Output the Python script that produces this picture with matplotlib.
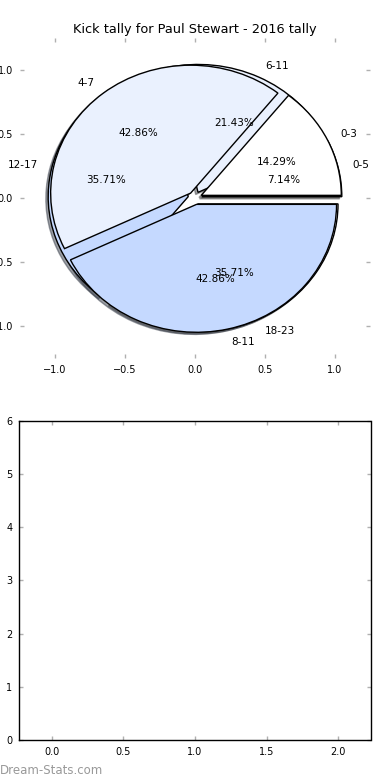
import matplotlib
matplotlib.use("Agg")
import matplotlib.pyplot as plt

# data
title = "Kick tally for Paul Stewart - 2016 tally"
quarter_labels = ["0-3", "4-7", "8-11"]
quarter_kicks = [2, 6, 6]
span_labels = ["0-5", "6-11", "12-17", "18-23"]
span_kicks = [1, 3, 5, 5]
pie_colors = ["#ffffff", "#eaf1fe", "#c5d9ff"]
pie_ticks = [-1.0, -0.5, 0.0, 0.5, 1.0]
bar_xticks = [0.0, 0.5, 1.0, 1.5, 2.0]
bar_yticks = [0, 1, 2, 3, 4, 5, 6]

plt.rcParams['font.family'] = ['DejaVu Sans']
plt.rcParams['font.size'] = 7.5

fig = plt.figure(figsize=(3.9, 7.8), dpi=100)
fig.patch.set_facecolor('white')

# top: two pies drawn on one axes
ax1 = fig.add_axes([0.0513, 0.541, 0.8974, 0.410])
wedge_style = {'edgecolor': 'black', 'linewidth': 1.0}
shadow_style = {'ox': -0.012, 'oy': -0.012}
ax1.pie(span_kicks, labels=span_labels, colors=pie_colors, autopct='%1.2f%%',
        explode=[0.05] * len(span_kicks), shadow=shadow_style, frame=True,
        wedgeprops=wedge_style, textprops={'fontsize': 7.5})
ax1.pie(quarter_kicks, labels=quarter_labels, colors=pie_colors, autopct='%1.2f%%',
        explode=[0.05] * len(quarter_kicks), shadow=shadow_style, frame=True,
        wedgeprops=wedge_style, textprops={'fontsize': 7.5})
ax1.set_aspect('auto')
ax1.set_xlim(-1.25, 1.25)
ax1.set_ylim(-1.25, 1.25)
ax1.set_xticks(pie_ticks)
ax1.set_yticks(pie_ticks)
for s in ax1.spines.values():
    s.set_visible(False)
ax1.set_title(title, fontsize=9.3, pad=4)

# bottom: empty axes
ax2 = fig.add_axes([0.0495, 0.0513, 0.9005, 0.4090])
ax2.set_xlim(-0.225, 2.225)
ax2.set_ylim(0, 6)
ax2.set_xticks(bar_xticks)
ax2.set_yticks(bar_yticks)
for s in ax2.spines.values():
    s.set_linewidth(1.0)
    s.set_color('black')

for ax in (ax1, ax2):
    ax.tick_params(direction='in', length=3, width=1, color='#b0b0b0',
                   top=True, right=True, labelsize=7, pad=5)

fig.text(0.0, 1 - 770 / 780, "Dream-Stats.com", color='#999999', fontsize=8.5,
         ha='left', va='center')

fig.savefig("out.png", dpi=100, facecolor='white')
